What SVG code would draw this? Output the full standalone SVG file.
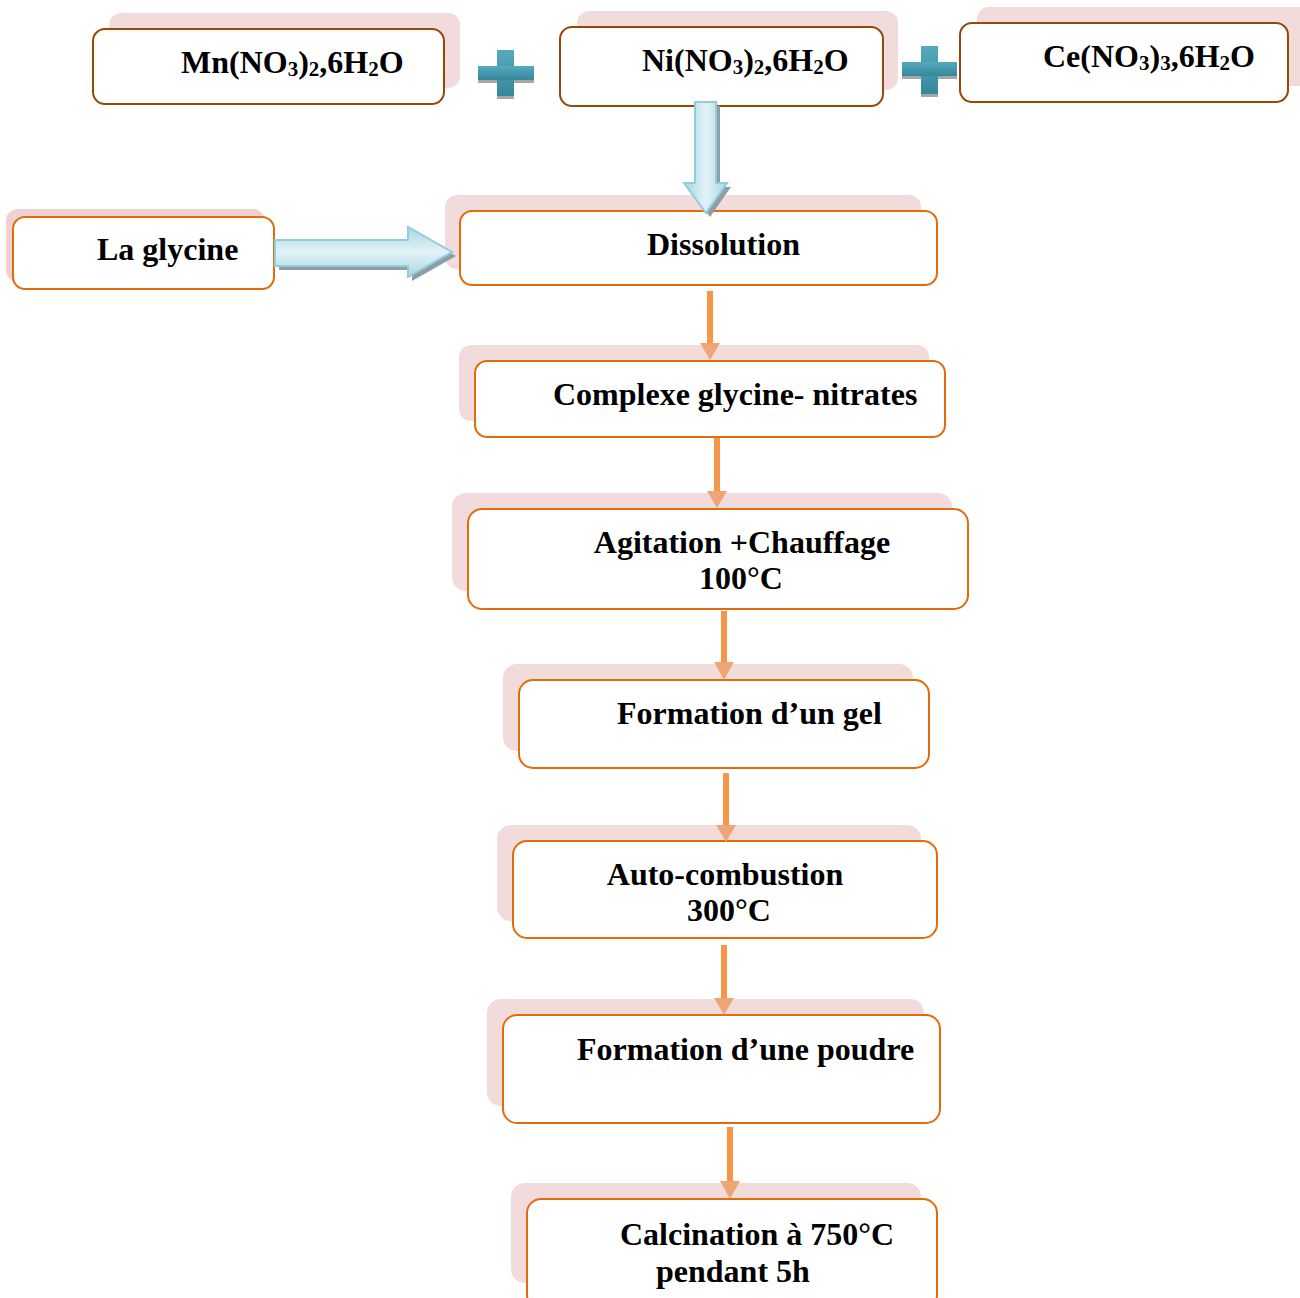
<svg xmlns="http://www.w3.org/2000/svg" width="1300" height="1298" viewBox="0 0 1300 1298">
<defs>
<style>
.sh{fill:#f2dcdb;}
.bx{fill:#ffffff;stroke:#e36c0a;stroke-width:2;}
.bxb{fill:#ffffff;stroke:#974806;stroke-width:2;}
.t{font-family:"Liberation Serif","Times New Roman",serif;font-weight:bold;font-size:32px;fill:#000;}
.sub{font-size:21px;}
.shaft{stroke:#f79646;stroke-width:6;fill:none;}
.head{fill:#eea577;}
.ash{fill:#8e9ea6;}
.plsh{fill:#a6a6a6;}
</style>
<linearGradient id="gh" x1="0" y1="0" x2="0" y2="1">
<stop offset="0" stop-color="#a8d7e3"/>
<stop offset="0.5" stop-color="#e2f2f6"/>
<stop offset="1" stop-color="#a8d7e3"/>
</linearGradient>
<linearGradient id="gv" x1="0" y1="0" x2="1" y2="0">
<stop offset="0" stop-color="#a8d7e3"/>
<stop offset="0.5" stop-color="#e2f2f6"/>
<stop offset="1" stop-color="#a8d7e3"/>
</linearGradient>
<linearGradient id="gp" x1="0" y1="0" x2="0" y2="1">
<stop offset="0" stop-color="#55aabd"/>
<stop offset="1" stop-color="#36879a"/>
</linearGradient>
</defs>
<rect width="1300" height="1298" fill="#ffffff"/>

<g id="mn">
<rect class="sh" x="109" y="13" width="351" height="75" rx="12"/>
<rect class="bxb" x="93" y="29" width="351" height="75" rx="12"/>
<text class="t" x="181" y="73">Mn(NO<tspan class="sub" dy="3">3</tspan><tspan dy="-3">)</tspan><tspan class="sub" dy="3">2</tspan><tspan dy="-3">,6H</tspan><tspan class="sub" dy="3">2</tspan><tspan dy="-3">O</tspan></text>
</g>

<g id="plus1">
<rect class="plsh" x="497" y="53" width="17" height="46"/>
<rect class="plsh" x="478" y="69" width="56" height="14"/>
<rect fill="url(#gp)" x="497" y="50" width="17" height="46"/>
<rect fill="url(#gp)" x="478" y="66" width="56" height="14"/>
</g>

<g id="ni">
<rect class="sh" x="577" y="11" width="321" height="79" rx="12"/>
<rect class="bxb" x="560" y="27" width="323" height="79" rx="12"/>
<text class="t" x="642" y="71">Ni(NO<tspan class="sub" dy="3">3</tspan><tspan dy="-3">)</tspan><tspan class="sub" dy="3">2</tspan><tspan dy="-3">,6H</tspan><tspan class="sub" dy="3">2</tspan><tspan dy="-3">O</tspan></text>
</g>

<g id="plus2">
<rect class="plsh" x="921" y="49" width="17" height="48"/>
<rect class="plsh" x="902" y="65" width="55" height="14"/>
<rect fill="url(#gp)" x="921" y="46" width="17" height="48"/>
<rect fill="url(#gp)" x="902" y="62" width="55" height="14"/>
</g>

<g id="ce">
<rect class="sh" x="977" y="7" width="340" height="79" rx="12"/>
<rect class="bxb" x="960" y="23" width="328" height="79" rx="12"/>
<text class="t" x="1043" y="67">Ce(NO<tspan class="sub" dy="3">3</tspan><tspan dy="-3">)</tspan><tspan class="sub" dy="3">3</tspan><tspan dy="-3">,6H</tspan><tspan class="sub" dy="3">2</tspan><tspan dy="-3">O</tspan></text>
</g>

<g id="glycine">
<rect fill="#efd1d1" x="6" y="209" width="259" height="73" rx="12"/>
<rect class="bx" x="13" y="217" width="261" height="72" rx="12"/>
<text class="t" x="97" y="260">La glycine</text>
</g>

<g id="dissolution">
<rect class="sh" x="445" y="195" width="476" height="74" rx="12"/>
<rect class="bx" x="460" y="211" width="477" height="74" rx="12"/>
<text class="t" x="647" y="255">Dissolution</text>
</g>

<g id="complexe">
<rect class="sh" x="459" y="345" width="470" height="76" rx="12"/>
<rect class="bx" x="475" y="361" width="470" height="76" rx="12"/>
<text class="t" x="553" y="405">Complexe glycine- nitrates</text>
</g>

<g id="agitation">
<rect class="sh" x="452" y="493" width="500" height="98" rx="14"/>
<rect class="bx" x="468" y="509" width="500" height="100" rx="14"/>
<text class="t" x="742" y="553" text-anchor="middle">Agitation +Chauffage</text>
<text class="t" x="741" y="589" text-anchor="middle">100°C</text>
</g>

<g id="gel">
<rect class="sh" x="503" y="664" width="410" height="87" rx="14"/>
<rect class="bx" x="519" y="680" width="410" height="88" rx="14"/>
<text class="t" x="617" y="724">Formation d’un gel</text>
</g>

<g id="combustion">
<rect class="sh" x="497" y="825" width="424" height="96" rx="14"/>
<rect class="bx" x="513" y="841" width="424" height="97" rx="14"/>
<text class="t" x="725" y="885" text-anchor="middle">Auto-combustion</text>
<text class="t" x="729" y="921" text-anchor="middle">300°C</text>
</g>

<g id="poudre">
<rect class="sh" x="487" y="999" width="437" height="107" rx="14"/>
<rect class="bx" x="503" y="1015" width="437" height="108" rx="14"/>
<text class="t" x="577" y="1060">Formation d’une poudre</text>
</g>

<g id="calcination">
<rect class="sh" x="511" y="1183" width="410" height="100" rx="14"/>
<rect class="bx" x="527" y="1199" width="410" height="110" rx="14"/>
<text class="t" x="620" y="1245">Calcination à 750°C</text>
<text class="t" x="656" y="1282">pendant 5h</text>
</g>

<g id="connectors">
<polygon class="ash" points="279,244 412,244 412,231 456,256 412,281 412,270 279,270"/>
<polygon fill="url(#gh)" stroke="#92cddc" stroke-width="2" points="275,240 408,240 408,227 452,252 408,277 408,266 275,266"/>
<polygon class="ash" points="699,106 720,106 720,187 731,187 710,217 688,187 699,187"/>
<polygon fill="url(#gv)" stroke="#92cddc" stroke-width="2" points="695,102 716,102 716,183 727,183 706,213 684,183 695,183"/>

<line class="shaft" x1="710" y1="291" x2="710" y2="344"/>
<polygon class="head" points="700,343 720,343 710,360"/>
<line class="shaft" x1="717" y1="438" x2="717" y2="492"/>
<polygon class="head" points="707,491 727,491 717,508"/>
<line class="shaft" x1="724" y1="611" x2="724" y2="663"/>
<polygon class="head" points="714,662 734,662 724,680"/>
<line class="shaft" x1="726" y1="773" x2="726" y2="826"/>
<polygon class="head" points="716,825 736,825 726,842"/>
<line class="shaft" x1="724" y1="945" x2="724" y2="999"/>
<polygon class="head" points="714,998 734,998 724,1015"/>
<line class="shaft" x1="730" y1="1127" x2="730" y2="1182"/>
<polygon class="head" points="720,1181 740,1181 730,1199"/>
</g>
</svg>
